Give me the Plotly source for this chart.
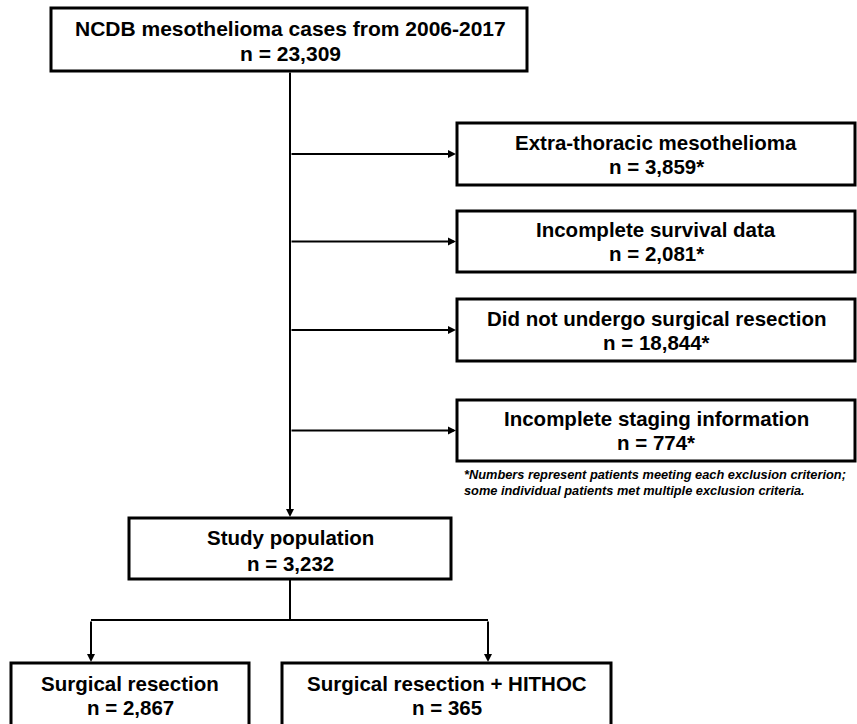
import plotly.graph_objects as go

# ---- data (text content of the flowchart) ----
top_label = "NCDB mesothelioma cases from 2006-2017"
top_count = "23,309"
excl_labels = ["Extra-thoracic mesothelioma", "Incomplete survival data",
               "Did not undergo surgical resection", "Incomplete staging information"]
excl_counts = ["3,859*", "2,081*", "18,844*", "774*"]
study_label = "Study population"
study_count = "3,232"
group_labels = ["Surgical resection", "Surgical resection + HITHOC"]
group_counts = ["2,867", "365"]
footnote_lines = ["*Numbers represent patients meeting each exclusion criterion;",
                  "some individual patients met multiple exclusion criteria."]

W, H = 857, 724
FONT = "Liberation Sans, Arial, Helvetica, sans-serif"
FS = 20.5

fig = go.Figure()
shapes = []
annotations = []

def box(x0, y0, x1, y1):
    shapes.append(dict(type="rect", xref="x", yref="y", x0=x0, y0=y0, x1=x1, y1=y1,
                       line=dict(color="black", width=3), fillcolor="white", layer="above"))

def text(x, y, s, size=FS, anchor="center", italic=False):
    t = f"<b>{s}</b>" if not italic else f"<b><i>{s}</i></b>"
    annotations.append(dict(x=x, y=y, xref="x", yref="y", text=t, showarrow=False,
                            xanchor=anchor, yanchor="middle",
                            font=dict(family=FONT, size=size, color="black")))

def line(x0, y0, x1, y1):
    shapes.append(dict(type="line", xref="x", yref="y", x0=x0, y0=y0, x1=x1, y1=y1,
                       line=dict(color="black", width=2)))

def arrow(x0, y0, x1, y1):
    annotations.append(dict(x=x1, y=y1, ax=x0, ay=y0, xref="x", yref="y",
                            axref="x", ayref="y", showarrow=True, text="",
                            arrowhead=2, arrowsize=0.8, arrowwidth=2, arrowcolor="black"))

MAIN_X = 290

# top box
box(51, 8, 527, 71)
text(MAIN_X, 28, top_label, size=21)
text(MAIN_X, 53, "n = " + top_count, size=21)

# main vertical line with arrow into study box
arrow(MAIN_X, 71, MAIN_X, 517)

# exclusion boxes
excl_boxes = [(123, 185), (211, 272), (299, 361), (400, 461)]
for (y0, y1), lab, cnt in zip(excl_boxes, excl_labels, excl_counts):
    box(457, y0, 855, y1)
    cy = (y0 + y1) / 2
    text(656, cy - 12, lab)
    text(656, cy + 12, "n = " + cnt)
    arrow(MAIN_X, cy, 456, cy)

# footnote
text(462, 474, footnote_lines[0], size=12.8, anchor="left", italic=True)
text(462, 490, footnote_lines[1], size=12.8, anchor="left", italic=True)

# study population
box(129, 518, 451, 579)
text(MAIN_X, 537, study_label)
text(MAIN_X, 563, "n = " + study_count)

# split
line(MAIN_X, 579, MAIN_X, 620)
line(91, 620, 488, 620)
arrow(91, 620, 91, 662)
arrow(488, 620, 488, 662)

# group boxes
group_boxes = [(11, 249), (282, 611)]
for (x0, x1), lab, cnt in zip(group_boxes, group_labels, group_counts):
    box(x0, 663, x1, 726)
    cx = (x0 + x1) / 2
    text(cx, 683, lab)
    text(cx, 707, "n = " + cnt)

fig.update_layout(
    width=W, height=H,
    margin=dict(l=0, r=0, t=0, b=0),
    paper_bgcolor="white", plot_bgcolor="white",
    xaxis=dict(range=[0, W], visible=False, fixedrange=True),
    yaxis=dict(range=[H, 0], visible=False, fixedrange=True),
    shapes=shapes, annotations=annotations, showlegend=False,
)

fig.write_html("out.html", config={"displayModeBar": False},
               post_script="document.body.style.margin='0px';document.body.style.padding='0px';")
